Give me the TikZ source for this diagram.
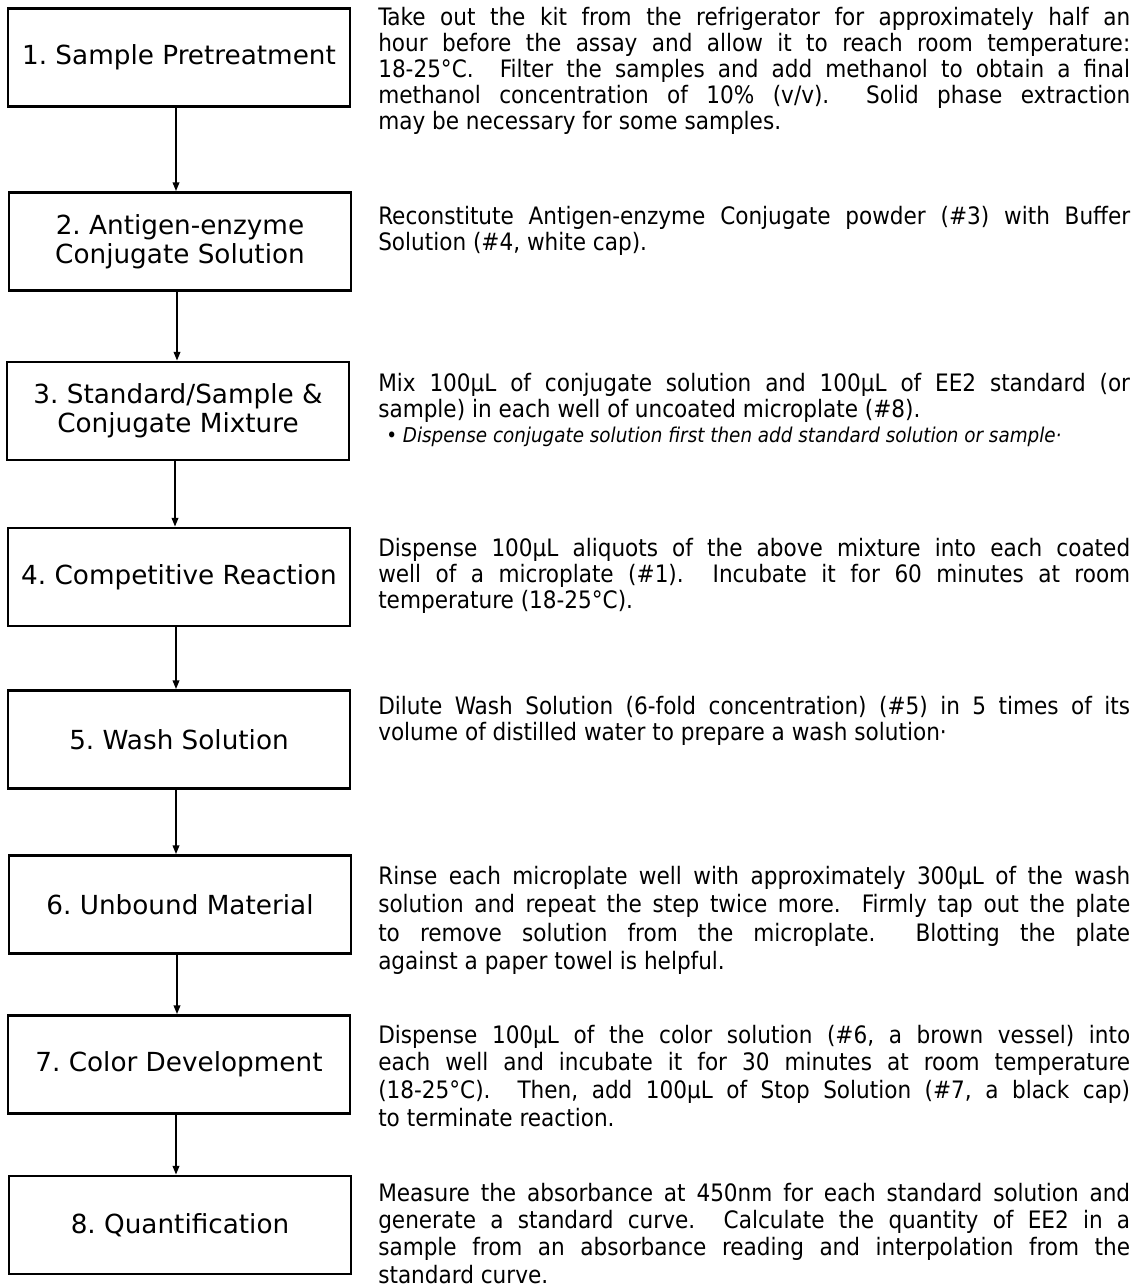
\documentclass[tikz,border=0pt]{standalone}
\usepackage{fontspec}
\usetikzlibrary{arrows.meta}
\setmainfont{DejaVu Sans}
\newfontfamily\boxfont{DejaVu Sans}
\newfontfamily\descfont{DejaVu Sans Condensed}[ItalicFont={DejaVu Sans Condensed Oblique}]
\newcommand\descnode[5]{%
  \node[anchor=base west, inner sep=0pt] (#1) at (#2) {\vtop{\hsize=564pt\descfont\fontsize{18pt}{#3}\selectfont\parindent=0pt\tolerance=10000\hbadness=10000 #4}};}
\begin{document}
\frenchspacing
\begin{tikzpicture}[x=0.75pt,y=-0.75pt,
  stepbox/.style={draw=black, line width=2.2pt, minimum width=256.5pt, minimum height=73.5pt,
    inner sep=0pt, align=center, font=\boxfont\fontsize{19.7pt}{21.75pt}\selectfont},
  arr/.style={line width=1.1pt, -{Triangle[length=6.5pt,width=5pt]}},
  note/.style={anchor=base west, inner sep=0pt, font=\descfont\itshape\fontsize{15.3pt}{17pt}\selectfont}]
\useasboundingbox (0,0) rectangle (1140,1288);
\fill[white] (0,0) rectangle (1140,1288);

% step boxes
\node[stepbox] (b1) at (179,57.5) {1. Sample Pretreatment};
\node[stepbox] (b2) at (180,241.5) {2. Antigen-enzyme\\Conjugate Solution};
\node[stepbox] (b3) at (178,411) {3. Standard/Sample \&\\Conjugate Mixture};
\node[stepbox] (b4) at (179,577) {4. Competitive Reaction};
\node[stepbox] (b5) at (179,739.5) {5. Wash Solution};
\node[stepbox] (b6) at (180,904.5) {6. Unbound Material};
\node[stepbox] (b7) at (179,1064.5) {7. Color Development};
\node[stepbox] (b8) at (180,1225) {8. Quantification};

% connectors
\draw[arr] ([xshift=-2.25pt]b1.south) -- ([xshift=-2.25pt]b1.south |- b2.north);
\draw[arr] ([xshift=-2.25pt]b2.south) -- ([xshift=-2.25pt]b2.south |- b3.north);
\draw[arr] ([xshift=-2.25pt]b3.south) -- ([xshift=-2.25pt]b3.south |- b4.north);
\draw[arr] ([xshift=-2.25pt]b4.south) -- ([xshift=-2.25pt]b4.south |- b5.north);
\draw[arr] ([xshift=-2.25pt]b5.south) -- ([xshift=-2.25pt]b5.south |- b6.north);
\draw[arr] ([xshift=-2.25pt]b6.south) -- ([xshift=-2.25pt]b6.south |- b7.north);
\draw[arr] ([xshift=-2.25pt]b7.south) -- ([xshift=-2.25pt]b7.south |- b8.north);

% descriptions
\descnode{d1}{378,26}{19.5pt}{Take out the kit from the refrigerator for approximately half an\linebreak
hour before the assay and allow it to reach room temperature:\linebreak
18-25°C.\ \ Filter the samples and add methanol to obtain a final\linebreak
methanol concentration of 10\% (v/v).\ \ Solid phase extraction\linebreak
may be necessary for some samples.}{}

\descnode{d2}{378,224}{19.5pt}{Reconstitute Antigen-enzyme Conjugate powder (\#3) with Buffer\linebreak
Solution (\#4, white cap).}{}

\descnode{d3}{378,391}{19.5pt}{Mix 100µL of conjugate solution and 100µL of EE2 standard (or\linebreak
sample) in each well of uncoated microplate (\#8).}{}
\node[note] (n3) at (386,442) {• Dispense conjugate solution first then add standard solution or sample·};

\descnode{d4}{378,556}{19.5pt}{Dispense 100µL aliquots of the above mixture into each coated\linebreak
well of a microplate (\#1).\ \ Incubate it for 60 minutes at room\linebreak
temperature (18-25°C).}{}

\descnode{d5}{378,714}{19.5pt}{Dilute Wash Solution (6-fold concentration) (\#5) in 5 times of its\linebreak
volume of distilled water to prepare a wash solution·}{}

\descnode{d6}{378,884}{21.4pt}{Rinse each microplate well with approximately 300µL of the wash\linebreak
solution and repeat the step twice more.\ \ Firmly tap out the plate\linebreak
to remove solution from the microplate.\ \ Blotting the plate\linebreak
against a paper towel is helpful.}{}

\descnode{d7}{378,1043}{20.8pt}{Dispense 100µL of the color solution (\#6, a brown vessel) into\linebreak
each well and incubate it for 30 minutes at room temperature\linebreak
(18-25°C).\ \ Then, add 100µL of Stop Solution (\#7, a black cap)\linebreak
to terminate reaction.}{}

\descnode{d8}{378,1201}{20.5pt}{Measure the absorbance at 450nm for each standard solution and\linebreak
generate a standard curve.\ \ Calculate the quantity of EE2 in a\linebreak
sample from an absorbance reading and interpolation from the\linebreak
standard curve.}{}
\end{tikzpicture}
\end{document}
